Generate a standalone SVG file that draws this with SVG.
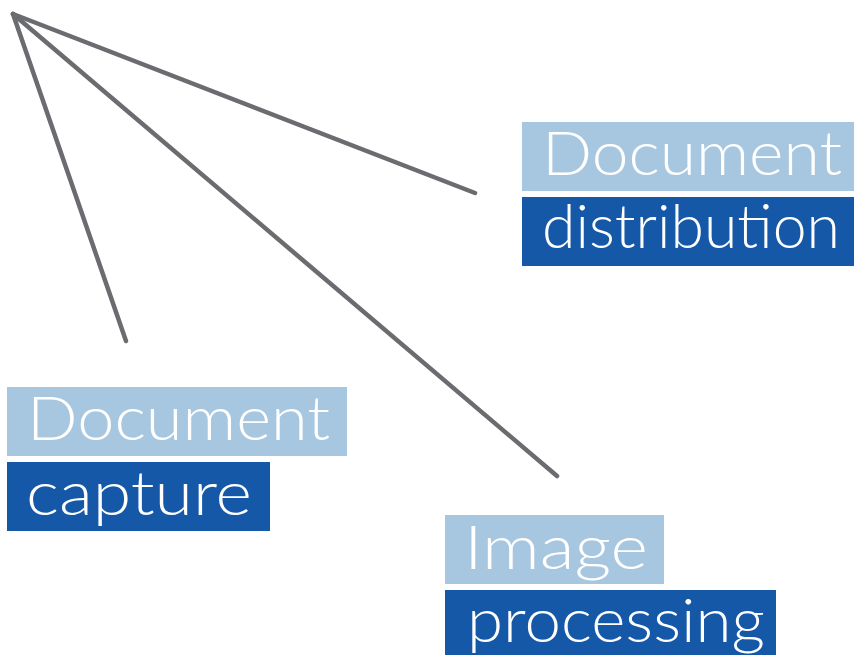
<svg xmlns="http://www.w3.org/2000/svg" width="854" height="655" viewBox="0 0 854 655">
<style>
.light{fill:#a7c6df}
.dark{fill:#1558a7}
.t{fill:#ffffff;font-family:Lato,"Liberation Sans",sans-serif;font-weight:300;font-size:62px}
.c{stroke:#6b6c70;stroke-width:4.5;stroke-linecap:round;fill:none}
</style>
<rect width="854" height="655" fill="#ffffff"/>
<g id="connectors">
<line class="c" x1="13" y1="14" x2="126" y2="341"/>
<line class="c" x1="13" y1="14" x2="557" y2="476"/>
<line class="c" x1="13" y1="14" x2="475" y2="193"/>
</g>
<g id="node-capture">
<rect class="light" x="7" y="387" width="340" height="69"/>
<rect class="dark" x="7" y="462" width="263" height="69"/>
<text class="t" x="27" y="440" textLength="303" lengthAdjust="spacingAndGlyphs">Document</text>
<text class="t" x="26" y="515" textLength="226" lengthAdjust="spacingAndGlyphs">capture</text>
</g>
<g id="node-processing">
<rect class="light" x="445" y="515" width="219" height="69"/>
<rect class="dark" x="445" y="590" width="331" height="69"/>
<text class="t" x="464" y="569" textLength="184" lengthAdjust="spacingAndGlyphs">Image</text>
<text class="t" x="467" y="642" textLength="298" lengthAdjust="spacingAndGlyphs">processing</text>
</g>
<g id="node-distribution">
<rect class="light" x="522" y="122" width="332" height="69"/>
<rect class="dark" x="522" y="197" width="332" height="69"/>
<text class="t" x="542" y="175" textLength="300" lengthAdjust="spacingAndGlyphs">Document</text>
<text class="t" x="542" y="248" textLength="298" lengthAdjust="spacingAndGlyphs">distribution</text>
</g>
</svg>
